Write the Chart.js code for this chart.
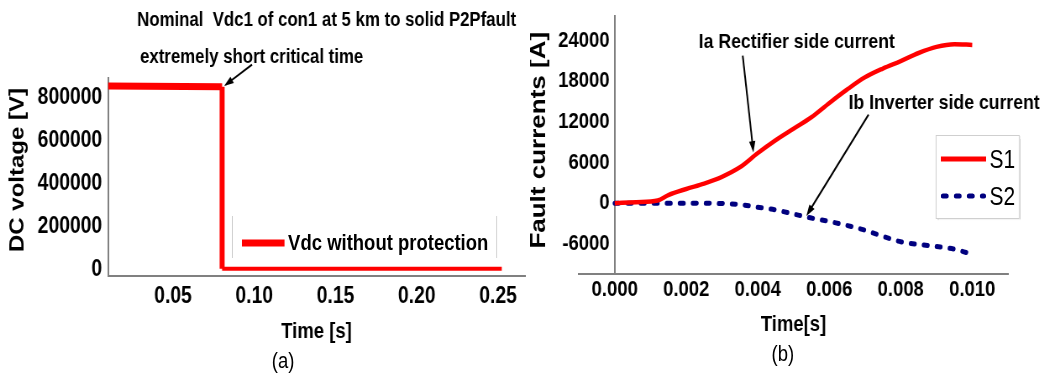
<!DOCTYPE html>
<html>
<head>
<meta charset="utf-8">
<script src="https://cdn.jsdelivr.net/npm/chart.js@4.4.1/dist/chart.umd.min.js"></script>
<style>
  html, body { margin: 0; padding: 0; background: #fff; }
  body { width: 1060px; height: 382px; position: relative; overflow: hidden;
         font-family: "Liberation Sans", Arial, sans-serif; color: #000; }
  /* the reference is squeezed horizontally, so each panel is drawn wide and scaled */
  .panel { position: absolute; top: 0; width: 631px; height: 382px;
           transform: scaleX(0.84); transform-origin: 0 0; }
  .panel canvas { position: absolute; left: 0; top: 0; }
  .legend { position: absolute; box-sizing: border-box; }
  .legend .row { position: absolute; height: 30px; display: flex; align-items: center;
                 line-height: 1; white-space: nowrap; }
  .legend svg { display: block; margin-right: 4px; }
  #legendA .row { font-size: 22px; font-weight: bold; }
  #legendB .row { font-size: 25px; }
  .caption { position: absolute; font-size: 22px; line-height: 1; transform: translate(-50%, -50%); }
</style>
</head>
<body>
<div class="panel" id="panelA" style="left:0">
  <canvas id="chartA" width="631" height="382"></canvas>
  <div class="legend" id="legendA" style="left:276px;top:216px;width:316px;height:42px;border-left:1.5px solid #bdbdbd;border-right:1.5px solid #bdbdbd;"></div>
  <div class="caption" style="left:337px;top:361px">(a)</div>
</div>
<div class="panel" id="panelB" style="left:530px">
  <canvas id="chartB" width="631" height="382"></canvas>
  <div class="legend" id="legendB" style="left:483px;top:135px;width:100px;height:84px;border:1.5px solid #cfcfcf;box-shadow:1px 1px 1px #e4e4e4;"></div>
  <div class="caption" style="left:301px;top:354px">(b)</div>
</div>

<script>
// ---- panel (a): DC voltage ----
const timeA = [0.01, 0.0802, 0.0802, 0.2523];
const vdcA = [856000, 852000, 6000, 6000];
const xTicksA = [0.05, 0.10, 0.15, 0.20, 0.25];
const yTicksA = [0, 200000, 400000, 600000, 800000];

// ---- panel (b): fault currents ----
const timeS1 = [0, 0.0006, 0.0012, 0.0015, 0.002, 0.0025, 0.003, 0.0035, 0.004, 0.0045, 0.005,
                0.0055, 0.006, 0.0065, 0.007, 0.0075, 0.008, 0.0085, 0.009, 0.0095, 0.01];
const curS1 = [0, 150, 400, 1200, 2100, 2900, 3900, 5300, 7400, 9300, 11000,
               12700, 14800, 16800, 18600, 19900, 21000, 22200, 23100, 23500, 23400];
const timeS2 = [0, 0.001, 0.002, 0.003, 0.0035, 0.004, 0.0045, 0.005, 0.0055, 0.006,
                0.0065, 0.007, 0.0075, 0.008, 0.0085, 0.009, 0.0095, 0.0099];
const curS2 = [0, 0, 0, -50, -200, -600, -1000, -1600, -2200, -2700,
               -3300, -4000, -4900, -5700, -6100, -6400, -6800, -7400];
const xTicksB = [0, 0.002, 0.004, 0.006, 0.008, 0.010];
const yTicksB = [-6000, 0, 6000, 12000, 18000, 24000];

Chart.defaults.font.family = '"Liberation Sans", Arial, sans-serif';
Chart.defaults.color = '#000';

const pts = (xs, ys) => xs.map((x, i) => ({ x: x, y: ys[i] }));
const fixTicks = list => scale => { scale.ticks = list.map(v => ({ value: v })); };

// text and arrows anchored in data units
const notes = {
  id: 'notes',
  afterDraw(chart, args, opts) {
    const { ctx } = chart;
    const x = chart.scales.x, y = chart.scales.y;
    ctx.save();
    ctx.fillStyle = '#000';
    ctx.strokeStyle = '#000';
    (opts.texts || []).forEach(t => {
      const px = x.getPixelForValue(t.at[0]), py = y.getPixelForValue(t.at[1]);
      ctx.font = t.font;
      ctx.textBaseline = 'middle';
      if (t.vertical) {
        ctx.save();
        ctx.translate(px, py);
        ctx.rotate(-Math.PI / 2);
        ctx.textAlign = 'center';
        ctx.fillText(t.text, 0, 0);
        ctx.restore();
      } else {
        ctx.textAlign = 'left';
        ctx.fillText(t.text, px, py);
      }
    });
    (opts.arrows || []).forEach(a => {
      const x0 = x.getPixelForValue(a.from[0]), y0 = y.getPixelForValue(a.from[1]);
      const x1 = x.getPixelForValue(a.to[0]), y1 = y.getPixelForValue(a.to[1]);
      const ang = Math.atan2(y1 - y0, x1 - x0);
      const head = 12, spread = 0.32;
      ctx.lineWidth = 2;
      ctx.beginPath();
      ctx.moveTo(x0, y0);
      ctx.lineTo(x1 - head * 0.8 * Math.cos(ang), y1 - head * 0.8 * Math.sin(ang));
      ctx.stroke();
      ctx.beginPath();
      ctx.moveTo(x1, y1);
      ctx.lineTo(x1 - head * Math.cos(ang - spread), y1 - head * Math.sin(ang - spread));
      ctx.lineTo(x1 - head * Math.cos(ang + spread), y1 - head * Math.sin(ang + spread));
      ctx.closePath();
      ctx.fill();
    });
    ctx.restore();
  }
};

function buildLegend(el, chart, rows) {
  chart.data.datasets.forEach((ds, i) => {
    const r = rows[i];
    const row = document.createElement('div');
    row.className = 'row';
    row.style.left = r.left + 'px';
    row.style.top = (r.cy - 15) + 'px';
    const lw = r.lw;
    const cap = ds.borderCapStyle || 'butt';
    const dash = (ds.borderDash || []).join(' ');
    const inset = cap === 'round' ? lw / 2 : 0;
    row.innerHTML =
      '<svg width="' + r.w + '" height="14"><line x1="' + inset + '" y1="7" x2="' + (r.w - inset) +
      '" y2="7" stroke="' + ds.borderColor + '" stroke-width="' + lw + '" stroke-linecap="' + cap +
      '"' + (dash ? ' stroke-dasharray="' + dash + '"' : '') + '/></svg><span>' + ds.label + '</span>';
    el.appendChild(row);
  });
}

const chartA = new Chart(document.getElementById('chartA'), {
  type: 'line',
  data: {
    datasets: [{
      label: 'Vdc without protection',
      data: pts(timeA, vdcA),
      borderColor: '#ff0000',
      borderWidth: 6,
      borderJoinStyle: 'miter',
      pointRadius: 0,
      tension: 0,
      segment: { borderWidth: ctx => [7, 6, 4][ctx.p0DataIndex] }
    }]
  },
  options: {
    responsive: false, animation: false, devicePixelRatio: 1,
    layout: { padding: { left: 0, right: 6, top: 78, bottom: 37 } },
    plugins: {
      legend: { display: false }, tooltip: { enabled: false },
      notes: {
        texts: [
          { text: 'DC voltage [V]', at: [-0.0454, 465000], font: 'bold 24px "Liberation Sans", Arial', vertical: true },
          { text: 'Nominal  Vdc1 of con1 at 5 km to solid P2Pfault', at: [0.0279, 1162000], font: 'bold 20px "Liberation Sans", Arial' },
          { text: 'extremely short critical time', at: [0.0297, 990000], font: 'bold 20px "Liberation Sans", Arial' }
        ],
        arrows: [{ from: [0.0986, 955000], to: [0.0814, 856000] }]
      }
    },
    scales: {
      x: {
        type: 'linear', min: 0.01, max: 0.2666,
        grid: { display: false, drawTicks: false },
        border: { color: '#808080', width: 2 },
        afterBuildTicks: fixTicks(xTicksA),
        afterFit: s => { s.height = 69; },
        ticks: { font: { size: 23, weight: 'bold' }, padding: 7, maxRotation: 0, autoSkip: false,
                 callback: v => v.toFixed(2) },
        title: { display: true, text: 'Time [s]', font: { size: 22, weight: 'bold' }, padding: { top: 0, bottom: 0 } }
      },
      y: {
        type: 'linear', min: -28000, max: 893000,
        grid: { display: false, drawTicks: false },
        border: { color: '#808080', width: 2 },
        afterBuildTicks: fixTicks(yTicksA),
        afterFit: s => { s.width = 128.6; },
        ticks: { font: { size: 23, weight: 'bold' }, padding: 7, autoSkip: false, callback: v => String(v) },
        title: { display: false }
      }
    }
  },
  plugins: [notes]
});

const chartB = new Chart(document.getElementById('chartB'), {
  type: 'line',
  data: {
    datasets: [{
      label: 'S1',
      data: pts(timeS1, curS1),
      borderColor: '#ff0000',
      borderWidth: 4.5,
      pointRadius: 0,
      cubicInterpolationMode: 'monotone'
    }, {
      label: 'S2',
      data: pts(timeS2, curS2),
      borderColor: '#00007f',
      borderWidth: 5,
      borderDash: [4.5, 11],
      borderCapStyle: 'round',
      pointRadius: 0,
      cubicInterpolationMode: 'monotone'
    }]
  },
  options: {
    responsive: false, animation: false, devicePixelRatio: 1,
    layout: { padding: { left: 58.3, right: 62, top: 12, bottom: 44 } },
    plugins: {
      legend: { display: false }, tooltip: { enabled: false },
      notes: {
        texts: [
          { text: 'Fault currents [A]', at: [-0.00212, 9300], font: 'bold 26px "Liberation Sans", Arial', vertical: true },
          { text: 'Ia Rectifier side current', at: [0.00235, 23850], font: 'bold 21px "Liberation Sans", Arial' },
          { text: 'Ib Inverter side current', at: [0.00654, 14840], font: 'bold 21px "Liberation Sans", Arial' }
        ],
        arrows: [
          { from: [0.00358, 21820], to: [0.00388, 7500] },
          { from: [0.0071, 13090], to: [0.00536, -1890] }
        ]
      }
    },
    scales: {
      x: {
        type: 'linear', min: -0.001, max: 0.011,
        grid: { display: false, drawTicks: false },
        border: { color: '#808080', width: 2 },
        afterBuildTicks: fixTicks(xTicksB),
        afterFit: s => { s.height = 64; },
        ticks: { font: { size: 22, weight: 'bold' }, padding: 3, maxRotation: 0, autoSkip: false,
                 callback: v => v.toFixed(3) },
        title: { display: true, text: 'Time[s]', font: { size: 22, weight: 'bold' }, padding: { top: 0, bottom: 0 } }
      },
      y: {
        type: 'linear', position: { x: 0 }, min: -10470, max: 27640,
        grid: { display: false, drawTicks: false },
        border: { color: '#808080', width: 2 },
        afterBuildTicks: fixTicks(yTicksB),
        ticks: { font: { size: 22, weight: 'bold' }, autoSkip: false, callback: v => v + ' ' },
        title: { display: false }
      }
    }
  },
  plugins: [notes]
});

buildLegend(document.getElementById('legendA'), chartA, [{ left: 11, cy: 27, w: 51, lw: 7 }]);
buildLegend(document.getElementById('legendB'), chartB, [
  { left: 5, cy: 23, w: 54, lw: 5 },
  { left: 5, cy: 60, w: 54, lw: 5 }
]);
</script>
</body>
</html>
